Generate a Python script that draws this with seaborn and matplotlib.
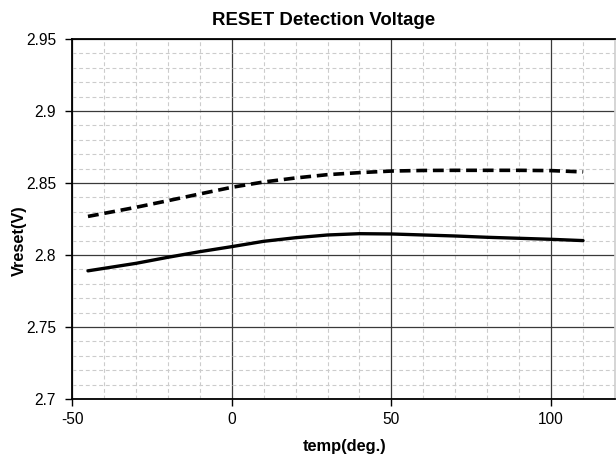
import matplotlib
matplotlib.use("Agg")
import matplotlib.pyplot as plt
from matplotlib.ticker import MultipleLocator, FuncFormatter
import pandas as pd
import seaborn as sns

# values
temp = [-45, -30, -20, -10, 0, 10, 20, 30, 40, 50, 60, 70, 80, 90, 100, 110]
v_upper = [2.8268, 2.8331, 2.8377, 2.8424, 2.8470, 2.8507, 2.8535, 2.8558,
           2.8572, 2.8583, 2.8587, 2.8588, 2.8588, 2.8588, 2.8586, 2.8577]
v_lower = [2.7890, 2.7942, 2.7984, 2.8023, 2.8058, 2.8095, 2.8120, 2.8139,
           2.8148, 2.8146, 2.8139, 2.8132, 2.8123, 2.8116, 2.8109, 2.8100]

df = pd.DataFrame({"temp": temp, "upper": v_upper, "lower": v_lower})

sns.set_theme(style="white")
plt.rcParams['font.family'] = ['Liberation Sans', 'DejaVu Sans']
plt.rcParams['axes.unicode_minus'] = False
plt.rcParams['text.color'] = 'black'
plt.rcParams['axes.labelcolor'] = 'black'
plt.rcParams['xtick.color'] = 'black'
plt.rcParams['ytick.color'] = 'black'

fig = plt.figure(figsize=(6.16, 4.55), dpi=100)
ax = fig.add_axes([72 / 616, 56 / 455, 543 / 616, 360 / 455])

sns.lineplot(data=df, x="temp", y="upper", ax=ax, color="black",
             linewidth=2.6, linestyle=(0, (3, 1.6)))
sns.lineplot(data=df, x="temp", y="lower", ax=ax, color="black",
             linewidth=2.4)

ax.set_xlim(-50, 120)
ax.set_ylim(2.7, 2.95)
ax.xaxis.set_major_locator(MultipleLocator(50))
ax.xaxis.set_minor_locator(MultipleLocator(10))
ax.yaxis.set_major_locator(MultipleLocator(0.05))
ax.yaxis.set_minor_locator(MultipleLocator(0.01))
ax.yaxis.set_major_formatter(FuncFormatter(lambda v, p: "%g" % round(v, 3)))

ax.grid(which="minor", color="#cccccc", linestyle=(0, (3.5, 2.5)), linewidth=0.8)
ax.grid(which="major", color="#3a3a3a", linestyle="-", linewidth=0.9)
ax.set_axisbelow(True)

ax.tick_params(axis="both", which="major", direction="out", length=5,
               width=1, color="black", labelcolor="black", labelsize=11.2,
               left=True, bottom=True)
ax.tick_params(axis="y", which="major", pad=6.5)
ax.tick_params(axis="x", which="major", pad=4)
ax.tick_params(axis="both", which="minor", length=0)

for side in ["left", "bottom", "top"]:
    ax.spines[side].set_color("black")
    ax.spines[side].set_linewidth(1.3)
ax.spines["right"].set_color("#d0d0d0")

ax.set_xlabel("temp(deg.)", fontsize=11.8, fontweight="bold", color="black")
ax.set_ylabel("Vreset(V)", fontsize=11.8, fontweight="bold", color="black")
ax.xaxis.set_label_coords(0.502, -0.111)
ax.yaxis.set_label_coords(-0.083, 0.439)
fig.text(0.525, 0.956, "RESET Detection Voltage", ha="center", va="center",
         fontsize=13.4, fontweight="bold", color="black")

fig.savefig("out.png", dpi=100)
